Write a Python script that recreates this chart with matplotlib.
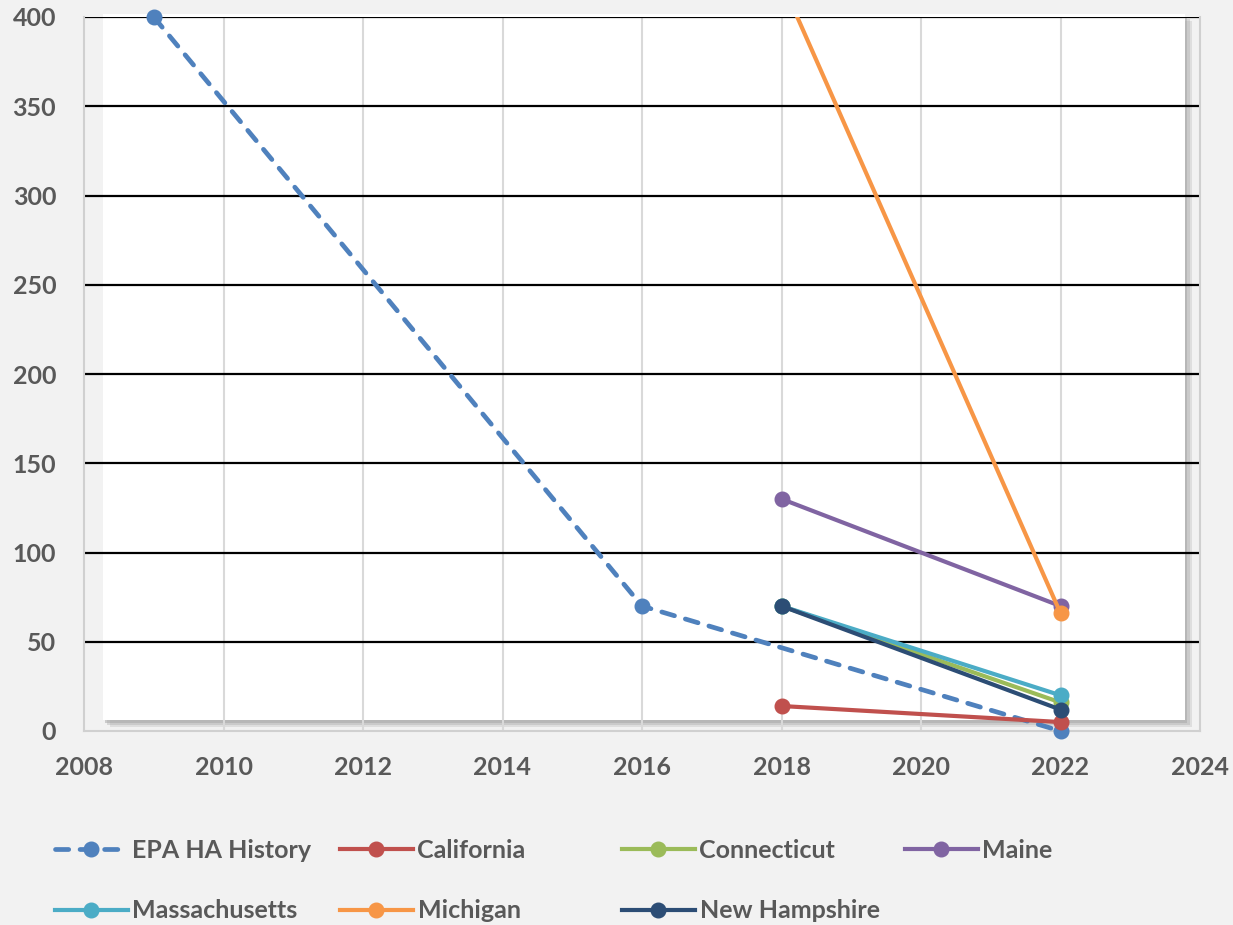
import matplotlib.pyplot as plt
from matplotlib.patches import Rectangle

# --- data ---
epa_years = [2009, 2016, 2022]
epa_values = [400, 70, 0]

state_years = [2018, 2022]
california = [14, 5]
connecticut = [70, 16]
maine = [130, 70]
massachusetts = [70, 20]
michigan = [420, 66]
new_hampshire = [70, 12]

x_ticks = [2008, 2010, 2012, 2014, 2016, 2018, 2020, 2022, 2024]
y_ticks = [0, 50, 100, 150, 200, 250, 300, 350, 400]

W, H = 1233, 925
BG = "#f2f2f2"
TXT = "#595959"

plt.rcParams["font.family"] = ["Lato", "DejaVu Sans"]
plt.rcParams["font.weight"] = "bold"

fig = plt.figure(figsize=(W / 100, H / 100), dpi=100, facecolor=BG)
ax = fig.add_axes([84 / W, 1 - 731 / H, (1200 - 84) / W, (731 - 17) / H])
ax.set_facecolor(BG)

# shadowed white plot "floor"
for dx, dy, a in [(0.006, -0.010, 0.25), (0.004, -0.007, 0.35), (0.002, -0.004, 0.5)]:
    ax.add_patch(Rectangle((0.017 + dx, 0.0154 + dy), 0.9696, 0.9886, transform=ax.transAxes,
                           facecolor="#a6a6a6", edgecolor="none", alpha=a, zorder=0.1,
                           clip_on=False))
ax.add_patch(Rectangle((0.017, 0.0154), 0.9696, 0.9886, transform=ax.transAxes,
                       facecolor="white", edgecolor="none", zorder=0.2, clip_on=False))

ax.set_xlim(2008, 2024)
ax.set_ylim(0, 400)
ax.set_xticks(x_ticks)
ax.set_yticks(y_ticks)

for v in x_ticks[1:-1]:
    ax.axvline(v, color="#d9d9d9", lw=1.5, zorder=0.3)
for v in y_ticks[1:]:
    ax.axhline(v, color="black", lw=1.6, zorder=0.4)

lw, ms = 3.0, 10.5
series = [
    ("EPA HA History", epa_years, epa_values, "#4f81bd", True),
    ("California", state_years, california, "#c0504d", False),
    ("Connecticut", state_years, connecticut, "#9bbb59", False),
    ("Maine", state_years, maine, "#8064a2", False),
    ("Massachusetts", state_years, massachusetts, "#4bacc6", False),
    ("Michigan", state_years, michigan, "#f79646", False),
    ("New Hampshire", state_years, new_hampshire, "#2c4d75", False),
]
handles = []
for i, (name, xs, ys, color, dashed) in enumerate(series):
    line, = ax.plot(xs, ys, color=color, lw=lw + (0.4 if dashed else 0), marker="o",
                    markersize=ms, label=name, zorder=3 + i,
                    clip_on=(name == "Michigan"))
    if dashed:
        line.set_dashes((2.8, 2.4))
        line.set_dash_capstyle("round")
    handles.append(line)

for side in ["left", "right", "bottom"]:
    ax.spines[side].set_color("#d0d0d0")
    ax.spines[side].set_linewidth(1.5)
ax.spines["top"].set_visible(False)

ax.tick_params(length=0, labelsize=18, labelcolor=TXT)
ax.tick_params(axis="y", pad=20)
ax.tick_params(axis="x", pad=18)

# legend laid out in Excel-style fixed columns
col_x = [55, 340, 622, 905]
row_y = [850, 911]
for i, h in enumerate(handles):
    r, c = divmod(i, 4)
    fig.legend(handles=[h], labels=[h.get_label()], loc="center left",
               bbox_to_anchor=(col_x[c] / W, 1 - row_y[r] / H), frameon=False,
               borderpad=0, borderaxespad=0, handlelength=2.9, handletextpad=0.2,
               numpoints=1, prop={"size": 18, "weight": "bold"}, labelcolor=TXT)

fig.savefig("out.png", dpi=100, facecolor=BG)
